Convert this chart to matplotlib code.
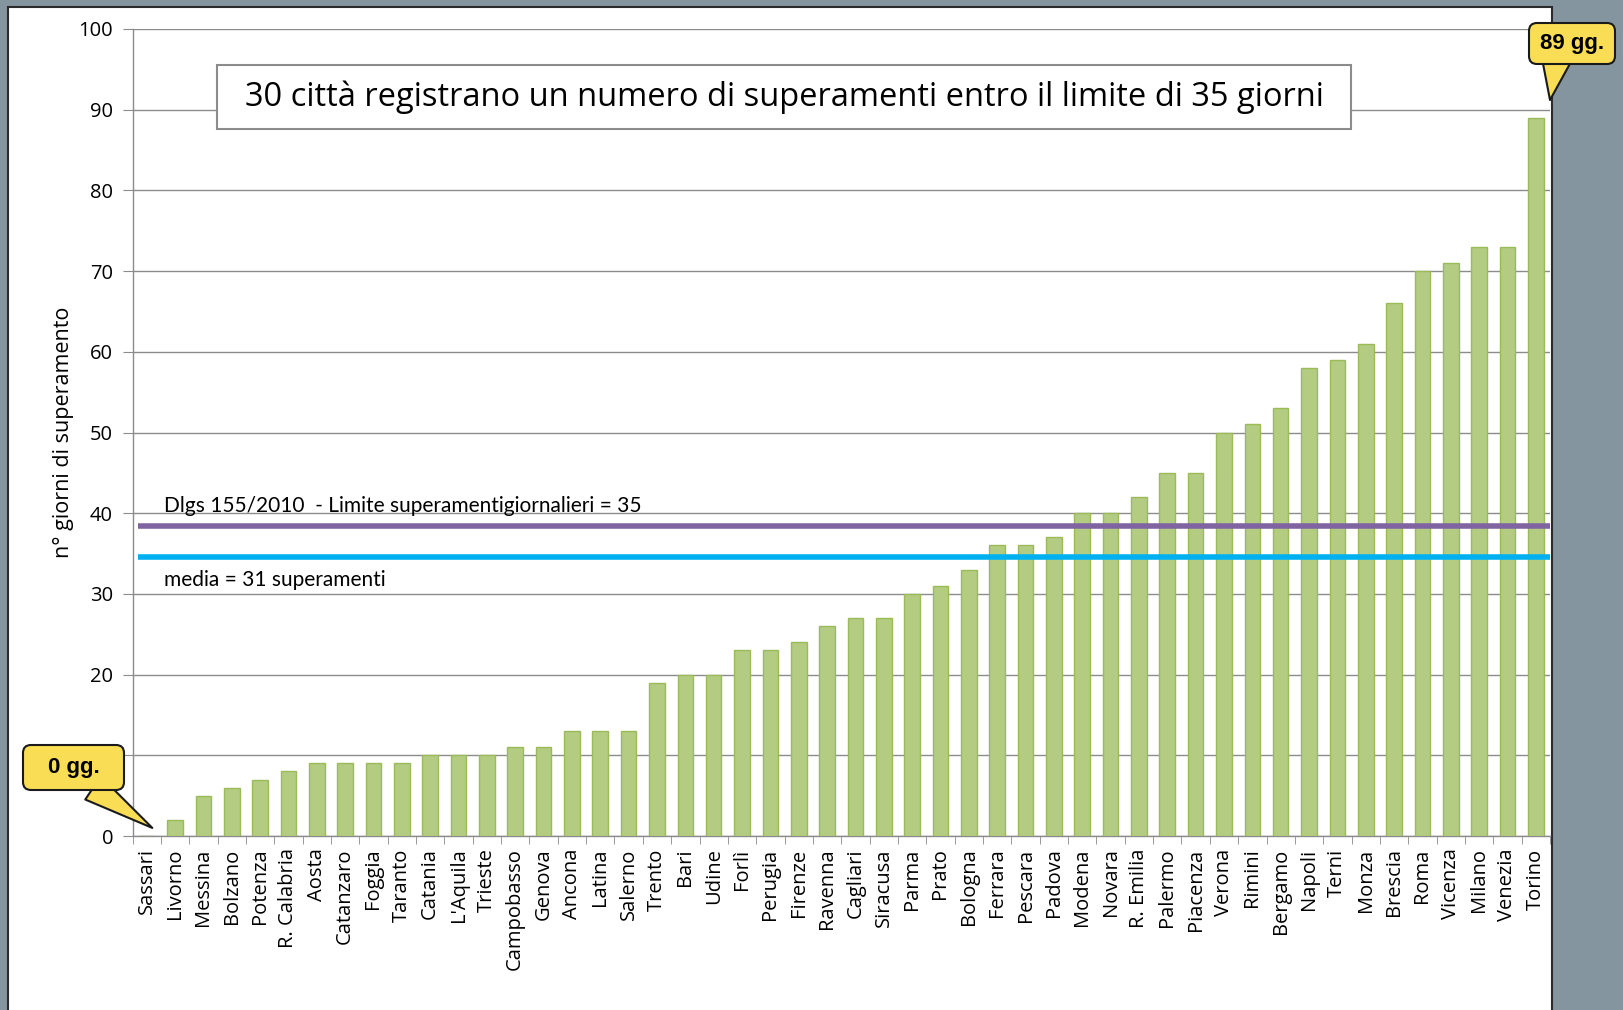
import numpy as np
import matplotlib.pyplot as plt
from matplotlib.patches import Rectangle, FancyBboxPatch
from matplotlib.transforms import Affine2D

# data
citta = ['Sassari', 'Livorno', 'Messina', 'Bolzano', 'Potenza', 'R. Calabria', 'Aosta',
         'Catanzaro', 'Foggia', 'Taranto', 'Catania', "L'Aquila", 'Trieste', 'Campobasso',
         'Genova', 'Ancona', 'Latina', 'Salerno', 'Trento', 'Bari', 'Udine', 'Forlì',
         'Perugia', 'Firenze', 'Ravenna', 'Cagliari', 'Siracusa', 'Parma', 'Prato',
         'Bologna', 'Ferrara', 'Pescara', 'Padova', 'Modena', 'Novara', 'R. Emilia',
         'Palermo', 'Piacenza', 'Verona', 'Rimini', 'Bergamo', 'Napoli', 'Terni', 'Monza',
         'Brescia', 'Roma', 'Vicenza', 'Milano', 'Venezia', 'Torino']
giorni = [0, 2, 5, 6, 7, 8, 9, 9, 9, 9, 10, 10, 10, 11, 11, 13, 13, 13, 19, 20, 20, 23,
          23, 24, 26, 27, 27, 30, 31, 33, 36, 36, 37, 40, 40, 42, 45, 45, 50, 51, 53, 58,
          59, 61, 66, 70, 71, 73, 73, 89]
# reference lines as drawn in the picture
linea_limite = 38.4
linea_media = 34.6
titolo = '30 città registrano un numero di superamenti entro il limite di 35 giorni'
testo_limite = 'Dlgs 155/2010  - Limite superamentigiornalieri = 35'
testo_media = 'media = 31 superamenti'

W, H = 1623, 1010
plt.rcParams['font.family'] = ['Open Sans', 'DejaVu Sans']
fig = plt.figure(figsize=(W / 100, H / 100), dpi=100, facecolor='#8595a0')
px = Affine2D().scale(1 / 100) + fig.dpi_scale_trans   # figure pixels, origin bottom-left

# white panel
fig.patches.append(Rectangle((8 / W, -0.05), (1552 - 8) / W, 1.05 - 7 / H,
                             transform=fig.transFigure, facecolor='white',
                             edgecolor='#2b2b2b', lw=1.5, zorder=-5))

ax = fig.add_axes([132.5 / W, 174 / H, (1550 - 132.5) / W, (981 - 174) / H])
ax.patch.set_alpha(0)

x = np.arange(len(citta))
ax.bar(x, giorni, width=0.55, color='#b3cc82', edgecolor='#9bbb59', lw=1, zorder=3)

ax.set_xlim(-0.5, len(citta) - 0.5)
ax.set_ylim(0, 100)
ax.set_yticks(range(0, 101, 10))
ax.yaxis.grid(True, color='#8c8c8c', lw=1)
ax.set_axisbelow(True)
for s in ['top', 'right']:
    ax.spines[s].set_visible(False)
for s in ['left', 'bottom']:
    ax.spines[s].set_color('#8c8c8c')
    ax.spines[s].set_linewidth(1)

ax.set_xticks(x)
ax.set_xticklabels(citta, rotation=90, fontsize=14.5)
ax.set_xticks(np.arange(-0.5, len(citta), 1), minor=True)
ax.tick_params(axis='x', which='major', length=0, pad=9)
ax.tick_params(axis='x', which='minor', length=6, color='#8c8c8c', direction='out')
ax.tick_params(axis='y', length=7, color='#8c8c8c', labelsize=14.5, pad=7)
ax.set_ylabel('n° giorni di superamento', fontsize=15.5, labelpad=3)

# reference lines
ax.hlines(linea_limite, -0.3, len(citta) - 0.5, color='#8064a2', lw=4, zorder=4)
ax.hlines(linea_media, -0.3, len(citta) - 0.5, color='#00b0f0', lw=4, zorder=4)
ax.text(0.6, linea_limite + 1.2, testo_limite, fontsize=15, va='bottom',
        family=['Lato', 'DejaVu Sans'])
ax.text(0.6, linea_media - 1.7, testo_media, fontsize=15, va='top',
        family=['Lato', 'DejaVu Sans'])

# title box
fig.patches.append(Rectangle((217 / W, 1 - 129 / H), (1351 - 217) / W, (129 - 65) / H,
                             transform=fig.transFigure, facecolor='white',
                             edgecolor='#8c8c8c', lw=1.5, zorder=5))
fig.text(784 / W, 1 - 97 / H, titolo, ha='center', va='center', fontsize=23.5, zorder=6)


# callouts: wedge from box bottom to the bar, rounded box on top, then the text
def callout(testo, tip, base, box):
    x0, y0, x1, y1 = box   # pixels from top-left
    ax.annotate('', xy=tip, xytext=(base[0], H - base[1]), textcoords=px,
                arrowprops=dict(arrowstyle='wedge,tail_width=1.0,shrink_factor=0.5',
                                mutation_scale=20, fc='#f9dd55', ec='#1a1a1a', lw=1.5,
                                shrinkA=0, shrinkB=0),
                annotation_clip=False, zorder=7)
    fig.patches.append(FancyBboxPatch((x0, H - y1), x1 - x0, y1 - y0,
                                      boxstyle='round,pad=0,rounding_size=8',
                                      transform=px, fc='#f9dd55', ec='#1a1a1a',
                                      lw=1.5, zorder=8))
    fig.text((x0 + x1) / 2 / W, 1 - (y0 + y1) / 2 / H, testo, ha='center', va='center',
             fontsize=16, fontweight='bold', family='Liberation Sans', zorder=9)


callout('89 gg.', (49.5, 91.2), (1556, 62), (1529, 23, 1615, 64))
callout('0 gg.', (0.2, 1.0), (93, 788), (23, 745, 124, 790))

fig.savefig('out.png', dpi=100, facecolor=fig.get_facecolor())
